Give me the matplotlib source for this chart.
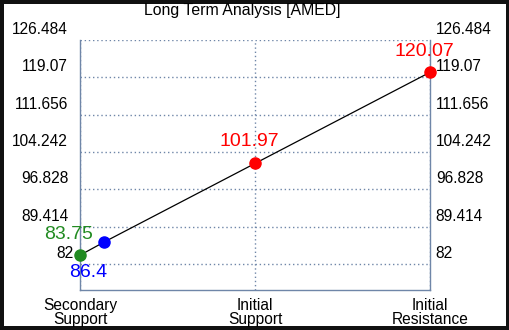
import matplotlib
matplotlib.use("Agg")
import matplotlib.pyplot as plt
from matplotlib.transforms import ScaledTranslation

plt.rcParams["font.family"] = ["Liberation Sans", "DejaVu Sans"]

TITLE = "Long Term Analysis [AMED]"
categories = ["Secondary\nSupport", "Initial\nSupport", "Initial\nResistance"]
point_x = [0, 0.14, 1, 2]
point_y = [83.75, 86.4, 101.97, 120.07]
point_labels = ["83.75", "86.4", "101.97", "120.07"]
point_colors = ["#228b22", "#0000ff", "#ff0000", "#ff0000"]
# label offsets in points, relative to each marker
label_offsets = [(-8, 15), (-12, -22), (-4, 16), (-4, 15)]
yticks = [82, 89.414, 96.828, 104.242, 111.656, 119.07, 126.484]
ytick_labels = ["82", "89.414", "96.828", "104.242", "111.656", "119.07", "126.484"]

grid_color = "#6f86a8"

fig = plt.figure(figsize=(5.1, 3.3), dpi=100, linewidth=4.5, edgecolor="#111111")
ax = fig.add_axes([80 / 510, 40 / 330, 350 / 510, 250 / 330])

ax.plot(point_x, point_y, color="black", linewidth=0.9, zorder=3)
for x, y, txt, c, off in zip(point_x, point_y, point_labels, point_colors, label_offsets):
    ax.plot(x, y, "o", color=c, markersize=8, zorder=4, clip_on=False)
    ax.annotate(txt, (x, y), xytext=off, textcoords="offset points",
                ha="center", va="center", color=c, fontsize=14,
                annotation_clip=False)

ax.set_xlim(0, 2)
ax.set_ylim(76.84, 126.484)
ax.set_xticks(range(len(categories)))
ax.set_xticklabels(categories)
ax.set_yticks(yticks)
ax.set_yticklabels(ytick_labels)

ax.grid(True, linestyle=(0, (1, 2)), color=grid_color, linewidth=1)
ax.tick_params(axis="both", length=0, labelsize=11.2)
ax.tick_params(axis="y", labelright=True, pad=8.5)
ax.tick_params(axis="x", pad=6)

for lbl in ax.get_xticklabels():
    lbl.set_linespacing(0.9)

# value labels sit above their gridlines
dpi_tr = fig.dpi_scale_trans
for t in ax.yaxis.get_major_ticks():
    dx = 5 / 100 if t.label1.get_text() == "82" else 0
    t.label1.set_transform(t.label1.get_transform() + ScaledTranslation(dx, 12 / 100, dpi_tr))
    t.label2.set_transform(t.label2.get_transform() + ScaledTranslation(-6 / 100, 12 / 100, dpi_tr))

for side in ["left", "right", "bottom"]:
    ax.spines[side].set_color(grid_color)
    ax.spines[side].set_linewidth(1)
ax.spines["top"].set_visible(False)

fig.text(242 / 510, 1 - 10 / 330, TITLE, ha="center", va="center", fontsize=11.4)

fig.savefig("out.png", dpi=100, edgecolor=fig.get_edgecolor())
